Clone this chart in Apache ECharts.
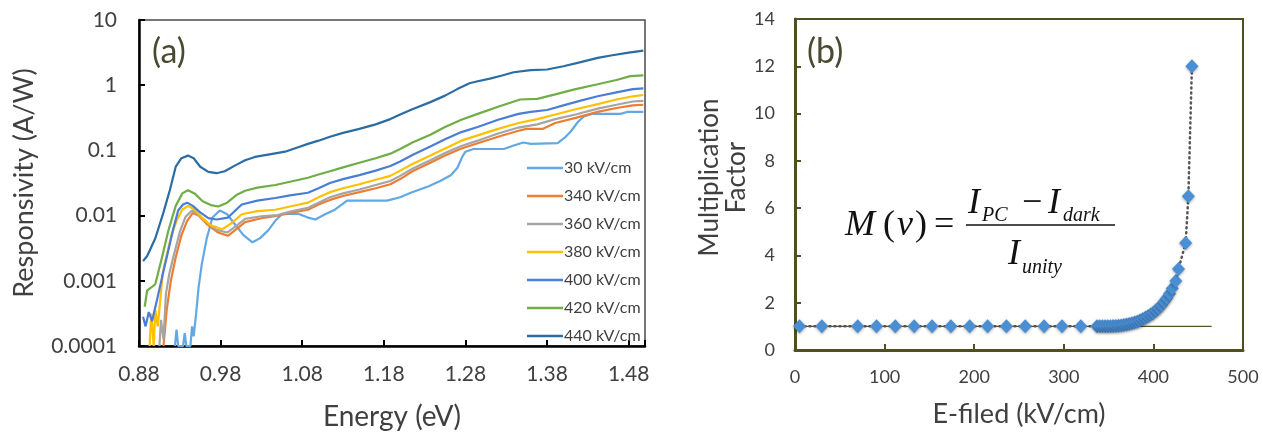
<!DOCTYPE html>
<html>
<head>
<meta charset="utf-8">
<script src="https://cdn.jsdelivr.net/npm/echarts@6/dist/echarts.min.js"></script>
<style>
html,body{margin:0;padding:0;background:#fff;}
#chart{width:1263px;height:436px;}
</style>
</head>
<body>
<div id="chart"></div>
<script>
// ---------- Panel (a): responsivity vs energy (pairs [eV, A/W]) ----------
const seriesNames = ['30 kV/cm','340 kV/cm','360 kV/cm','380 kV/cm','400 kV/cm','420 kV/cm','440 kV/cm'];
const seriesColors = ['#62a8e4','#ED7D31','#A5A5A5','#FFC000','#4a7dd6','#70AD47','#2b6ca3'];
const yTickLabels = ['0.0001','0.001','0.01','0.1','1','10'];

const resp30 = [[0.924,0.0001],[0.926,0.000178],[0.928,0.0001],[0.934,0.0001],[0.936,0.000158],[0.938,0.0001],[0.943,0.0001],[0.945,0.0002],[0.947,0.000141],[0.950,0.000316],[0.953,0.000794],[0.957,0.00182],[0.963,0.00447],[0.970,0.00933],[0.979,0.0120],[0.988,0.0105],[0.998,0.00724],[1.008,0.00501],[1.019,0.00389],[1.028,0.00447],[1.038,0.00589],[1.047,0.00832],[1.055,0.0105],[1.075,0.0107],[1.087,0.00933],[1.096,0.00871],[1.108,0.0105],[1.120,0.0123],[1.135,0.0170],[1.160,0.0170],[1.184,0.0170],[1.200,0.0191],[1.213,0.0224],[1.235,0.0282],[1.249,0.0339],[1.262,0.0417],[1.270,0.0537],[1.276,0.0794],[1.280,0.0955],[1.290,0.105],[1.327,0.105],[1.340,0.120],[1.351,0.132],[1.360,0.126],[1.393,0.129],[1.402,0.158],[1.409,0.195],[1.418,0.275],[1.425,0.331],[1.435,0.363],[1.470,0.363],[1.478,0.389],[1.498,0.389]];

const resp340 = [[0.910,0.0001],[0.914,0.000363],[0.919,0.001],[0.925,0.00229],[0.932,0.00501],[0.939,0.00832],[0.946,0.0110],[0.953,0.0100],[0.963,0.00741],[0.977,0.00550],[0.989,0.00490],[1.000,0.00631],[1.010,0.00794],[1.030,0.00912],[1.050,0.0100],[1.065,0.0110],[1.087,0.0123],[1.100,0.0148],[1.114,0.0174],[1.130,0.0200],[1.150,0.0229],[1.170,0.0263],[1.188,0.0302],[1.200,0.0363],[1.215,0.0479],[1.237,0.0646],[1.255,0.0832],[1.275,0.107],[1.295,0.129],[1.320,0.162],[1.345,0.200],[1.355,0.214],[1.375,0.214],[1.390,0.263],[1.415,0.316],[1.442,0.389],[1.465,0.447],[1.485,0.490],[1.498,0.501]];

const resp360 = [[0.905,0.0001],[0.907,0.000251],[0.910,0.000126],[0.913,0.000631],[0.917,0.00126],[0.922,0.00229],[0.930,0.00562],[0.937,0.00955],[0.945,0.0120],[0.952,0.0107],[0.962,0.00794],[0.975,0.00603],[0.988,0.00550],[1.000,0.00708],[1.010,0.00891],[1.030,0.00977],[1.050,0.0102],[1.065,0.0115],[1.087,0.0132],[1.100,0.0158],[1.114,0.0191],[1.130,0.0219],[1.150,0.0251],[1.170,0.0295],[1.188,0.0339],[1.200,0.0407],[1.215,0.0525],[1.237,0.0708],[1.255,0.0912],[1.275,0.117],[1.295,0.141],[1.320,0.182],[1.345,0.224],[1.368,0.251],[1.390,0.302],[1.415,0.355],[1.442,0.437],[1.465,0.501],[1.485,0.562],[1.498,0.575]];

const resp380 = [[0.893,0.0001],[0.895,0.000316],[0.898,0.0001],[0.900,0.000355],[0.903,0.0002],[0.906,0.0005],[0.909,0.00129],[0.915,0.00282],[0.920,0.00513],[0.927,0.00891],[0.933,0.0123],[0.940,0.0141],[0.947,0.0126],[0.957,0.00933],[0.968,0.00708],[0.982,0.00617],[0.993,0.00759],[1.006,0.0105],[1.025,0.0117],[1.047,0.0123],[1.065,0.0138],[1.087,0.0158],[1.100,0.0191],[1.114,0.0229],[1.130,0.0263],[1.150,0.0302],[1.170,0.0355],[1.188,0.0407],[1.200,0.0490],[1.215,0.0617],[1.237,0.0832],[1.255,0.107],[1.275,0.141],[1.295,0.170],[1.320,0.214],[1.345,0.263],[1.368,0.302],[1.390,0.355],[1.415,0.427],[1.442,0.513],[1.465,0.603],[1.485,0.676],[1.498,0.708]];

const resp400 = [[0.885,0.000282],[0.888,0.0002],[0.892,0.000331],[0.896,0.00024],[0.903,0.000575],[0.910,0.00141],[0.916,0.00295],[0.922,0.0063],[0.928,0.0120],[0.934,0.0148],[0.939,0.0158],[0.946,0.0141],[0.955,0.0112],[0.965,0.00912],[0.975,0.00871],[0.989,0.00933],[1.000,0.0126],[1.006,0.0148],[1.025,0.0170],[1.047,0.0186],[1.065,0.0204],[1.087,0.0224],[1.100,0.0263],[1.114,0.0316],[1.130,0.0363],[1.150,0.0417],[1.170,0.0490],[1.188,0.0575],[1.200,0.0676],[1.215,0.0851],[1.237,0.115],[1.255,0.148],[1.275,0.191],[1.295,0.229],[1.320,0.295],[1.345,0.363],[1.360,0.389],[1.380,0.417],[1.400,0.490],[1.420,0.575],[1.442,0.676],[1.465,0.776],[1.485,0.871],[1.498,0.891]];

const resp420 = [[0.887,0.00040],[0.890,0.00071],[0.895,0.00079],[0.900,0.00089],[0.908,0.00224],[0.916,0.0059],[0.925,0.0141],[0.933,0.0219],[0.940,0.0245],[0.948,0.0219],[0.958,0.0166],[0.968,0.0145],[0.977,0.0138],[0.988,0.0158],[1.000,0.0209],[1.010,0.0240],[1.025,0.0269],[1.047,0.0295],[1.065,0.0331],[1.087,0.0380],[1.100,0.0427],[1.114,0.0479],[1.130,0.0550],[1.150,0.0646],[1.170,0.0759],[1.188,0.0891],[1.200,0.105],[1.215,0.132],[1.237,0.174],[1.255,0.229],[1.275,0.295],[1.295,0.363],[1.320,0.468],[1.347,0.603],[1.368,0.617],[1.390,0.724],[1.415,0.871],[1.442,1.035],[1.465,1.20],[1.482,1.38],[1.498,1.41]];

const resp440 = [[0.885,0.0020],[0.890,0.0024],[0.900,0.0045],[0.910,0.0112],[0.918,0.0251],[0.925,0.0562],[0.932,0.0759],[0.940,0.0832],[0.947,0.0759],[0.955,0.0562],[0.965,0.0468],[0.975,0.0447],[0.985,0.0479],[0.998,0.0589],[1.010,0.0708],[1.022,0.0794],[1.040,0.0871],[1.059,0.0955],[1.075,0.112],[1.087,0.126],[1.100,0.141],[1.114,0.162],[1.130,0.186],[1.150,0.214],[1.170,0.251],[1.188,0.302],[1.200,0.355],[1.215,0.427],[1.237,0.550],[1.255,0.692],[1.270,0.871],[1.285,1.07],[1.295,1.15],[1.310,1.26],[1.325,1.41],[1.339,1.58],[1.360,1.70],[1.380,1.74],[1.400,1.95],[1.420,2.24],[1.442,2.63],[1.460,2.88],[1.480,3.16],[1.498,3.39]];

const respSeries = [resp30, resp340, resp360, resp380, resp400, resp420, resp440];

// ---------- Panel (b): multiplication factor vs E-field ----------
const efield = [5,30,70,91,112,133,153,174,195,215,236,257,278,298,319,
  337,340,343,346,349,352,355,358,361,364,367,370,373,376,379,382,385,388,391,394,397,400,403,406,409,412,415,418,421,425,428,436,439,443];
const mfactor = [1,1,1,1,1,1,1,1,1,1,1,1,1,1,1,
  1.0,1.0,1.0,1.0,1.0,1.0,1.01,1.02,1.03,1.04,1.06,1.08,1.10,1.13,1.16,1.2,1.25,1.3,1.36,1.43,1.5,1.58,1.68,1.78,1.9,2.05,2.2,2.38,2.6,2.92,3.43,4.53,6.5,12.0];
const unityLineX = [0, 465];
const unityLineY = [1, 1];

const FONT = 'Lato';
const tickColor = '#404040';
const olive = '#4f4f22';

const chart = echarts.init(document.getElementById('chart'), null, {renderer:'canvas'});

const seriesA = respSeries.map((d, i) => ({
  name: seriesNames[i], type: 'line', xAxisIndex: 0, yAxisIndex: 0,
  data: d, showSymbol: false, symbol: 'none',
  lineStyle: {width: 2.2, color: seriesColors[i]}, itemStyle: {color: seriesColors[i]},
  clip: true, animation: false, z: 2 + i
}));

const option = {
  animation: false,
  backgroundColor: '#ffffff',
  legend: {
    data: seriesNames, orient: 'vertical', left: 522, top: 155,
    icon: 'rect', itemWidth: 36, itemHeight: 2.5, itemGap: 12,
    textStyle: {fontFamily: FONT, fontSize: 16, color: '#404040', padding: [0,0,0,-4]}
  },
  grid: [
    {left: 139, top: 20, width: 506, height: 330, show: true, borderColor: '#4a4a4a', borderWidth: 1.5, backgroundColor: 'transparent'},
    {left: 795, top: 19, width: 448, height: 331, show: true, borderColor: olive, borderWidth: 2, backgroundColor: 'transparent'}
  ],
  xAxis: [
    {type: 'value', gridIndex: 0, min: 0.88, max: 1.5, interval: 0.1,
     name: 'Energy (eV)', nameLocation: 'middle', nameGap: 57,
     nameTextStyle: {fontFamily: FONT, fontSize: 28, color: tickColor},
     axisLine: {show: true, onZero: false, lineStyle: {color: '#000', width: 2.5}},
     axisTick: {show: true, inside: true, length: 6, lineStyle: {color: '#000', width: 2}},
     axisLabel: {margin: 18, fontFamily: FONT, fontSize: 21, color: tickColor,
       formatter: v => { const k = (v - 0.88) / 0.1; return (Math.abs(k - Math.round(k)) < 1e-6 && v < 1.49) ? v.toFixed(2) : ''; }},
     splitLine: {show: false}},
    {type: 'value', gridIndex: 1, min: 0, max: 500, interval: 100,
     name: 'E-filed (kV/cm)', nameLocation: 'middle', nameGap: 51,
     nameTextStyle: {fontFamily: FONT, fontSize: 27, color: tickColor},
     axisLine: {show: true, onZero: false, lineStyle: {color: olive, width: 3}},
     axisTick: {show: true, inside: true, length: 6, lineStyle: {color: olive, width: 2}},
     axisLabel: {margin: 18, fontFamily: FONT, fontSize: 18, color: tickColor},
     splitLine: {show: false}}
  ],
  yAxis: [
    {type: 'log', logBase: 10, gridIndex: 0, min: 0.0001, max: 10, interval: 1,
     name: 'Responsivity (A/W)', nameLocation: 'middle', nameGap: 95,
     nameTextStyle: {fontFamily: FONT, fontSize: 27, color: tickColor, padding: [0,0,6,0]},
     axisLine: {show: true, onZero: false, lineStyle: {color: '#000', width: 2.5}},
     axisTick: {show: true, inside: true, length: 6, lineStyle: {color: '#000', width: 2}},
     axisLabel: {margin: 22, fontFamily: FONT, fontSize: 21, color: tickColor,
       formatter: v => { const k = Math.round(Math.log10(v)) + 4; return yTickLabels[k] || ''; }},
     splitLine: {show: false}},
    {type: 'value', gridIndex: 1, min: 0, max: 14, interval: 2,
     name: 'Multiplication\nFactor', nameLocation: 'middle', nameGap: 42,
     nameTextStyle: {fontFamily: FONT, fontSize: 26, color: tickColor, lineHeight: 27, padding: [0,0,0,14]},
     axisLine: {show: true, onZero: false, lineStyle: {color: olive, width: 3}},
     axisTick: {show: true, inside: true, length: 6, lineStyle: {color: olive, width: 2}},
     axisLabel: {margin: 20, fontFamily: FONT, fontSize: 18, color: tickColor},
     splitLine: {show: false}}
  ],
  series: seriesA.concat([
    {name: 'unity', type: 'line', xAxisIndex: 1, yAxisIndex: 1,
     data: unityLineX.map((x, i) => [x, unityLineY[i]]), showSymbol: false, symbol: 'none',
     lineStyle: {color: '#55552a', width: 1.2}, clip: false, z: 2},
    {name: 'M', type: 'line', xAxisIndex: 1, yAxisIndex: 1,
     data: efield.map((x, i) => [x, mfactor[i]]),
     symbol: 'diamond', symbolSize: [13, 14], showAllSymbol: true,
     itemStyle: {color: '#4a8ed3', shadowBlur: 3, shadowColor: 'rgba(0,0,0,0.35)', shadowOffsetY: 1},
     lineStyle: {color: '#555555', width: 2.5, type: [1, 4], cap: 'round'},
     z: 5}
  ]),
  graphic: [
    {type: 'text', x: 152, y: 52, style: {text: '(a)', font: '34px Lato', fill: '#4a4a32', verticalAlign: 'middle'}},
    {type: 'text', x: 807, y: 52, style: {text: '(b)', font: '34px Lato', fill: '#4a4a32', verticalAlign: 'middle'}},
    {type: 'text', x: 845, y: 226, style: {text: 'M', font: 'italic 36px "Liberation Serif"', fill: '#111', verticalAlign: 'middle'}},
    {type: 'text', x: 883, y: 226, style: {text: '(', font: '36px "Liberation Serif"', fill: '#111', verticalAlign: 'middle'}},
    {type: 'text', x: 897, y: 226, style: {text: 'v', font: 'italic 36px "Liberation Serif"', fill: '#111', verticalAlign: 'middle'}},
    {type: 'text', x: 915, y: 226, style: {text: ')', font: '36px "Liberation Serif"', fill: '#111', verticalAlign: 'middle'}},
    {type: 'text', x: 934, y: 226, style: {text: '=', font: '36px "Liberation Serif"', fill: '#111', verticalAlign: 'middle'}},
    {type: 'text', x: 968, y: 204, style: {text: 'I', font: 'italic 36px "Liberation Serif"', fill: '#111', verticalAlign: 'middle'}},
    {type: 'text', x: 982, y: 216, style: {text: 'PC', font: 'italic 20px "Liberation Serif"', fill: '#111', verticalAlign: 'middle'}},
    {type: 'text', x: 1022, y: 204, style: {text: '\u2212', font: '36px "Liberation Serif"', fill: '#111', verticalAlign: 'middle'}},
    {type: 'text', x: 1048, y: 204, style: {text: 'I', font: 'italic 36px "Liberation Serif"', fill: '#111', verticalAlign: 'middle'}},
    {type: 'text', x: 1063, y: 216, style: {text: 'dark', font: 'italic 20px "Liberation Serif"', fill: '#111', verticalAlign: 'middle'}},
    {type: 'line', shape: {x1: 966, y1: 225, x2: 1115, y2: 225}, style: {stroke: '#111', lineWidth: 1.5}},
    {type: 'text', x: 1008, y: 255, style: {text: 'I', font: 'italic 36px "Liberation Serif"', fill: '#111', verticalAlign: 'middle'}},
    {type: 'text', x: 1022, y: 268, style: {text: 'unity', font: 'italic 20px "Liberation Serif"', fill: '#111', verticalAlign: 'middle'}}
  ]
};
chart.setOption(option);
</script>
</body>
</html>
